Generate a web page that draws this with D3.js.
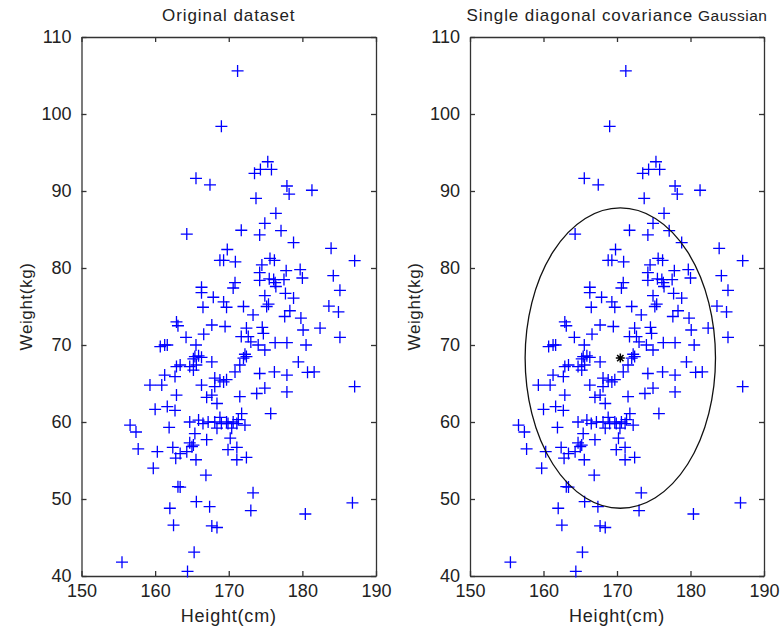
<!DOCTYPE html>
<html>
<head>
<meta charset="utf-8">
<script src="https://cdn.jsdelivr.net/npm/d3@7"></script>
<style>
  body { margin: 0; background: #fff; }
  text { font-family: "Liberation Sans", Arial, sans-serif; fill: #222; }
</style>
</head>
<body>
<svg width="782" height="632"></svg>
<script>
// height (cm), weight (kg)
const heights = [
  169.0,165.55,167.45,171.2,173.5,174.3,175.3,175.8,177.9,178.2,181.3,173.7,176.4,174.9,
  171.7,174.2,177.1,178.8,183.9,187.1,169.8,170.9,175.6,176.2,174.5,174.2,177.8,179.7,180.0,184.2,
  175.5,176.1,176.3,174.2,177.5,170.85,170.6,176.4,185.1,177.7,178.8,174.9,175.4,175.15,169.7,172.0,
  173.3,178.3,177.6,179.8,183.6,184.9,169.5,172.4,174.55,174.7,180.1,182.4,171.7,172.65,185.1,173.0,
  174.0,176.3,177.9,180.5,174.9,172.2,172.4,172.0,179.45,171.5,170.85,174.2,176.2,177.9,180.7,181.6,
  187.1,174.9,173.8,177.9,171.5,
  171.75,175.7,171.3,169.9,170.6,171.1,172.2,170.4,170.2,169.9,171.1,171.1,172.4,173.3,173.0,180.4,186.8,
  162.9,160.0,161.65,162.7,167.0,167.7,168.4,156.6,157.4,161.9,164.7,165.9,166.5,167.2,168.1,168.4,
  168.8,169.0,169.7,167.0,165.4,165.0,164.7,165.2,164.3,163.4,157.7,160.3,162.4,162.8,165.55,159.75,
  166.9,163.1,163.4,165.6,162.0,167.4,162.5,167.7,168.4,165.3,155.5,164.4,
  164.3,168.8,169.3,166.3,166.3,167.9,169.3,166.5,162.9,163.1,167.7,164.2,166.6,160.7,161.3,161.65,
  165.55,165.4,165.9,166.3,165.2,167.7,163.4,162.9,164.7,165.2,165.6,161.3,162.7,159.3,160.9,166.3,
  168.1,168.8,169.3,169.7,168.1
];
const weights = [
  98.4,91.65,90.8,105.6,92.3,92.8,93.8,92.8,90.65,89.6,90.1,89.05,87.1,85.8,
  84.9,84.3,84.85,83.3,82.55,80.95,82.4,80.8,81.25,81.0,80.4,79.4,79.65,79.8,78.7,79.0,
  78.6,78.5,78.1,78.4,78.5,78.1,77.4,77.6,77.1,76.7,76.1,76.4,75.3,75.0,74.9,75.0,
  73.9,74.45,73.7,73.5,75.05,74.3,72.4,72.2,72.3,71.5,71.95,72.2,71.1,71.1,71.0,70.4,
  70.0,70.3,70.3,70.0,69.35,68.8,68.5,68.3,67.8,67.4,66.5,66.3,66.5,66.1,66.45,66.5,
  64.6,64.4,63.7,63.9,63.3,
  61.1,61.1,60.3,59.8,60.0,59.8,59.6,59.2,57.9,56.4,56.7,55.1,55.4,50.8,48.5,48.05,49.5,
  63.5,61.65,62.0,61.5,63.2,63.5,62.4,59.6,58.7,59.3,60.0,60.25,59.8,60.0,60.0,59.2,
  60.6,59.8,60.0,57.7,58.5,56.8,57.3,57.0,56.15,55.9,56.5,56.15,56.7,55.3,55.1,54.0,
  53.1,51.6,51.55,49.65,48.8,49.0,46.6,46.5,46.3,43.1,41.8,40.6,
  84.4,81.0,81.0,77.5,76.8,76.2,75.6,74.9,73.0,72.5,72.6,71.0,71.4,69.8,70.0,70.0,
  70.0,68.5,68.6,68.4,68.2,67.8,67.4,67.2,67.2,66.75,67.4,66.1,65.9,64.8,64.8,64.8,
  65.7,65.45,65.2,65.5,64.6
];
const xTicks = [150, 160, 170, 180, 190];
const yTicks = [40, 50, 60, 70, 80, 90, 100, 110];
const titles = ["Original dataset", "Single diagonal covariance"];
// fitted gaussian: mean and 2-sigma radii
const gaussMean = [170.45, 68.3];
const gaussRadius = [12.95, 19.5];

const points = heights.map((h, i) => ({ h: h, w: weights[i] }));

const svg = d3.select("svg");

const panels = [
  { left: 81.5, right: 376, title: titles[0], gauss: false },
  { left: 470, right: 764, title: titles[1], gauss: true }
];
const plotTop = 37, plotBottom = 576;

panels.forEach((p) => {
  const x = d3.scaleLinear().domain([150, 190]).range([p.left, p.right]);
  const y = d3.scaleLinear().domain([40, 110]).range([plotBottom, plotTop]);
  const g = svg.append("g");

  // axes: ticks pointing inward on all four sides
  const axB = g.append("g").attr("transform", `translate(0,${plotBottom})`)
    .call(d3.axisBottom(x).tickValues(xTicks).tickSizeInner(-5).tickSizeOuter(0).tickPadding(8));
  const axT = g.append("g").attr("transform", `translate(0,${plotTop})`)
    .call(d3.axisTop(x).tickValues(xTicks).tickSizeInner(-5).tickSizeOuter(0).tickFormat(""));
  const axL = g.append("g").attr("transform", `translate(${p.left},0)`)
    .call(d3.axisLeft(y).tickValues(yTicks).tickSizeInner(-5).tickSizeOuter(0).tickPadding(10));
  const axR = g.append("g").attr("transform", `translate(${p.right},0)`)
    .call(d3.axisRight(y).tickValues(yTicks).tickSizeInner(-5).tickSizeOuter(0).tickFormat(""));
  [axB, axT, axL, axR].forEach((a) => {
    a.selectAll("path, line").attr("stroke", "#333").attr("stroke-width", 1.3);
    a.selectAll("text").style("font-size", "18px").attr("fill", "#222");
  });

  // markers
  g.selectAll("path.pt")
    .data(points)
    .enter()
    .append("path")
    .attr("class", "pt")
    .attr("d", (d) => {
      const cx = x(d.h), cy = y(d.w), r = 6;
      return `M${cx - r},${cy}H${cx + r}M${cx},${cy - r}V${cy + r}`;
    })
    .attr("stroke", "#0000ff")
    .attr("stroke-width", 1.3)
    .attr("fill", "none");

  if (p.gauss) {
    g.append("ellipse")
      .attr("cx", x(gaussMean[0]))
      .attr("cy", y(gaussMean[1]))
      .attr("rx", x(gaussMean[0] + gaussRadius[0]) - x(gaussMean[0]))
      .attr("ry", y(gaussMean[1]) - y(gaussMean[1] + gaussRadius[1]))
      .attr("fill", "none")
      .attr("stroke", "#111")
      .attr("stroke-width", 1.3);
    // asterisk at the mean
    const cx = x(gaussMean[0]), cy = y(gaussMean[1]), r = 4.5;
    let star = "";
    for (let k = 0; k < 4; k++) {
      const a = k * Math.PI / 4;
      star += `M${cx - r * Math.cos(a)},${cy - r * Math.sin(a)}L${cx + r * Math.cos(a)},${cy + r * Math.sin(a)}`;
    }
    g.append("path").attr("d", star).attr("stroke", "#000").attr("stroke-width", 1.5);
  }

  // titles and labels
  const t = g.append("text")
    .attr("x", (p.left + p.right) / 2)
    .attr("y", 21)
    .attr("text-anchor", "middle")
    .style("font-size", "17px")
    .style("letter-spacing", "0.9px")
    .text(p.title);
  if (p.gauss) t.append("tspan").style("font-size", "15.5px").style("letter-spacing", "0.5px").text(" Gaussian");

  g.append("text")
    .attr("x", (p.left + p.right) / 2)
    .attr("y", 622)
    .attr("text-anchor", "middle")
    .style("font-size", "18px")
    .style("letter-spacing", "0.8px")
    .text("Height(cm)");

  g.append("text")
    .attr("transform", `translate(${p.left - 50},${(plotTop + plotBottom) / 2}) rotate(-90)`)
    .attr("text-anchor", "middle")
    .style("font-size", "17px")
    .style("letter-spacing", "0.6px")
    .text("Weight(kg)");
});
</script>
</body>
</html>
